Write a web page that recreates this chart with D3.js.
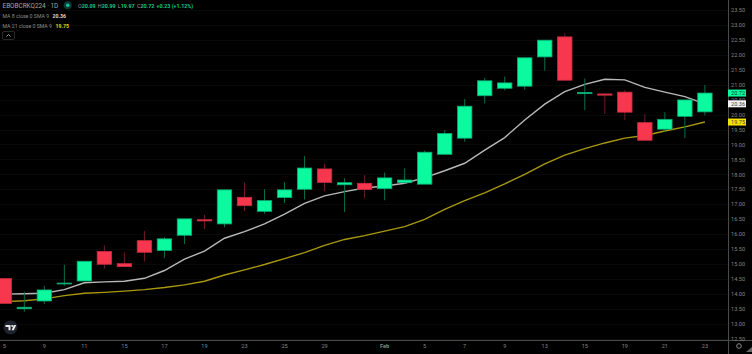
<!DOCTYPE html>
<html>
<head>
<meta charset="utf-8">
<script src="https://cdn.jsdelivr.net/npm/d3@7"></script>
<style>
    html, body { margin: 0; padding: 0; background: #000; overflow: hidden; }
    text { font-family: Roboto, "Noto Sans", sans-serif; }
</style>
</head>
<body>
<div id="chart"></div>
<script>
// Candles, left to right
const opens  = [14.51, 13.50, 13.76, 14.33, 14.43, 15.42, 15.01, 15.78, 15.45, 15.96, 16.48, 16.34, 17.23, 16.76, 17.22, 17.50, 18.18, 17.65, 17.70, 17.52, 17.72, 17.67, 18.67, 19.21, 20.63, 20.88, 20.95, 21.93, 22.60, 20.70, 20.69, 20.75, 19.73, 19.51, 19.94, 20.09];
const highs  = [14.51, 14.07, 14.27, 14.97, 15.09, 15.62, 15.38, 16.10, 15.90, 16.51, 16.64, 17.48, 17.72, 17.50, 17.74, 18.61, 18.35, 17.87, 17.97, 18.06, 18.20, 18.79, 19.48, 20.52, 21.23, 21.27, 21.90, 22.49, 22.72, 21.21, 20.69, 20.82, 20.02, 20.08, 20.49, 20.99];
const lows   = [13.68, 13.40, 13.66, 14.27, 14.43, 14.84, 14.91, 15.08, 15.20, 15.67, 16.17, 16.23, 16.77, 16.68, 17.04, 17.16, 17.44, 16.74, 17.21, 17.13, 17.70, 17.67, 18.65, 19.09, 20.38, 20.81, 20.83, 21.47, 21.15, 20.15, 20.02, 19.82, 19.14, 19.43, 19.21, 19.97];
const closes = [13.68, 13.55, 14.13, 14.36, 15.09, 14.99, 14.91, 15.39, 15.84, 16.51, 16.44, 17.48, 16.95, 17.12, 17.48, 18.21, 17.73, 17.72, 17.49, 17.88, 17.81, 18.74, 19.37, 20.28, 21.13, 21.06, 21.90, 22.49, 21.15, 20.74, 20.65, 20.08, 19.14, 19.84, 20.49, 20.72];

// Moving averages
const ma8  = [13.99, 14.00, 14.02, 14.14, 14.37, 14.40, 14.42, 14.52, 14.78, 15.16, 15.43, 15.86, 16.08, 16.34, 16.67, 17.03, 17.28, 17.42, 17.54, 17.61, 17.70, 17.89, 18.12, 18.37, 18.81, 19.23, 19.82, 20.35, 20.77, 21.01, 21.18, 21.16, 20.91, 20.75, 20.60, 20.36];
const ma21 = [13.74, 13.77, 13.83, 13.94, 14.02, 14.05, 14.09, 14.14, 14.21, 14.30, 14.42, 14.63, 14.80, 14.98, 15.18, 15.38, 15.62, 15.82, 15.95, 16.10, 16.25, 16.49, 16.83, 17.12, 17.38, 17.68, 18.00, 18.35, 18.64, 18.86, 19.05, 19.21, 19.30, 19.45, 19.59, 19.75];

// Labels on the time axis
const dayTicks = ["5", "9", "11", "15", "17", "19", "23", "25", "29", "Feb", "5", "7", "9", "13", "15", "19", "21", "23"];
const dayTickCandles = [0, 2, 4, 6, 8, 10, 12, 14, 16, 19, 21, 23, 25, 27, 29, 31, 33, 35];
const priceTicks = [12.5, 13, 13.5, 14, 14.5, 15, 15.5, 16, 16.5, 17, 17.5, 18, 18.5, 19, 19.5, 20, 20.5, 21, 21.5, 22, 22.5, 23, 23.5];

// Header readout
const ohlcLetters = ["O", "H", "L", "C"];
const ohlcValues = ["20.09", "20.99", "19.97", "20.72"];

const width = 752, height = 354;
const axisX = 728, axisY = 340;
const up = "#0cfa9f", down = "#f7374e";

const svg = d3.select("#chart").append("svg")
    .attr("width", width)
    .attr("height", height)
    .style("display", "block")
    .style("background", "#000");

// 36 candles, 20px apart
const x = d3.scaleLinear().domain([0, 35]).range([4.3, 704.9]);
const y = d3.scaleLinear().domain([13, 23.5]).range([323.7, 10]);

const plot = svg.append("g");
plot.append("clipPath").attr("id", "pane").append("rect")
    .attr("width", axisX).attr("height", axisY);
plot.attr("clip-path", "url(#pane)");

// Grid, hardly visible on the black
plot.selectAll(".hgrid")
    .data(priceTicks)
    .join("line")
    .attr("x1", 0).attr("x2", axisX)
    .attr("y1", d => Math.round(y(d)) + 0.5)
    .attr("y2", d => Math.round(y(d)) + 0.5)
    .attr("stroke", "#090909");

// Moving average lines
const line = d3.line().x((d, i) => x(i)).y(d => y(d));
plot.append("path").datum(ma21)
    .attr("d", line).attr("fill", "none")
    .attr("stroke", "#a8980f").attr("stroke-width", 1.4);
plot.append("path").datum(ma8)
    .attr("d", line).attr("fill", "none")
    .attr("stroke", "#b8b8b8").attr("stroke-width", 1.4);

// Candles
const candles = d3.range(opens.length);
const wickColor = i => closes[i] >= opens[i] ? "#0a6e4c" : "#6e1c27";
const edgeColor = i => closes[i] >= opens[i] ? "#0aa873" : "#c42e40";
const bodyColor = i => closes[i] >= opens[i] ? up : down;

plot.selectAll(".wick")
    .data(candles)
    .join("line")
    .attr("x1", i => x(i)).attr("x2", i => x(i))
    .attr("y1", i => y(highs[i])).attr("y2", i => y(lows[i]))
    .attr("stroke", wickColor).attr("stroke-width", 1);

plot.selectAll(".body")
    .data(candles)
    .join("rect")
    .attr("x", i => x(i) - 7.2)
    .attr("width", 14.4)
    .attr("y", i => y(Math.max(opens[i], closes[i])))
    .attr("height", i => Math.max(0.8, Math.abs(y(opens[i]) - y(closes[i]))))
    .attr("fill", bodyColor)
    .attr("stroke", edgeColor)
    .attr("stroke-width", 0.8);

// Axis lines
svg.append("line").attr("x1", axisX + 0.5).attr("x2", axisX + 0.5).attr("y1", 0).attr("y2", height)
    .attr("stroke", "#4a4a4a");
svg.append("line").attr("x1", 0).attr("x2", width).attr("y1", axisY + 0.5).attr("y2", axisY + 0.5)
    .attr("stroke", "#4a4a4a");

// Price axis
svg.append("g").selectAll("text")
    .data(priceTicks)
    .join("text")
    .attr("x", 731).attr("y", d => y(d) + 2.2)
    .attr("font-size", 5.6).attr("fill", "#858585")
    .text(d => d.toFixed(2));

// Time axis
svg.append("g").selectAll("text")
    .data(dayTicks)
    .join("text")
    .attr("x", (d, i) => x(dayTickCandles[i]))
    .attr("y", 347.5)
    .attr("text-anchor", "middle")
    .attr("font-size", 5.6)
    .attr("font-weight", d => d === "Feb" ? 700 : 400)
    .attr("fill", "#858585")
    .text(d => d);

// Last value tags, they sit on top of the price labels
const tags = [
    { value: closes[closes.length - 1], fill: up, text: "#04432e" },
    { value: ma8[ma8.length - 1], fill: "#f2f2f2", text: "#444" },
    { value: ma21[ma21.length - 1], fill: "#f5e400", text: "#444" }
];
tags.forEach(t => {
    svg.append("rect").attr("x", 728).attr("width", 18).attr("height", 7)
        .attr("y", y(t.value) - 3.5).attr("fill", t.fill);
    svg.append("text").attr("x", 731).attr("y", y(t.value) + 2.2)
        .attr("font-size", 5.6).attr("fill", t.text).text(t.value.toFixed(2));
});

// Header
svg.append("text").attr("x", 2.5).attr("y", 8).attr("font-size", 6.4)
    .attr("fill", "#a8a8a8").text("EBOBCRKQ224 · 1D");
svg.append("circle").attr("cx", 67.7).attr("cy", 5.2).attr("r", 4).attr("fill", "#0a3d32");
svg.append("circle").attr("cx", 67.7).attr("cy", 5.2).attr("r", 1.7).attr("fill", "#12c4a0");

const ohlc = svg.append("text").attr("x", 78).attr("y", 8).attr("font-size", 5.4);
ohlcLetters.forEach((letter, i) => {
    ohlc.append("tspan").attr("fill", "#9a9a9a").attr("dx", i ? 2.2 : 0).text(letter);
    ohlc.append("tspan").attr("fill", "#0cc888").attr("font-weight", 700).text(ohlcValues[i]);
});
ohlc.append("tspan").attr("fill", "#0cc888").attr("font-weight", 700).attr("dx", 2.2).text("+0.23 (+1.12%)");

const ma8Row = svg.append("text").attr("x", 2.5).attr("y", 17.8).attr("font-size", 5.2);
ma8Row.append("tspan").attr("fill", "#8d8d8d").text("MA 8 close 0 SMA 9");
ma8Row.append("tspan").attr("fill", "#dcdcdc").attr("font-weight", 700).attr("dx", 3.5).text("20.36");
const ma21Row = svg.append("text").attr("x", 2.5).attr("y", 27.8).attr("font-size", 5.2);
ma21Row.append("tspan").attr("fill", "#8d8d8d").text("MA 21 close 0 SMA 9");
ma21Row.append("tspan").attr("fill", "#e6d400").attr("font-weight", 700).attr("dx", 3.5).text("19.75");

// Collapse button
svg.append("rect").attr("x", 2.5).attr("y", 31.5).attr("width", 12).attr("height", 8).attr("rx", 1.5)
    .attr("fill", "none").attr("stroke", "#2a2a2a");
svg.append("path").attr("d", "M6.5 36.5L8.5 34.5L10.5 36.5").attr("fill", "none").attr("stroke", "#a0a0a0");

// TV logo
svg.append("circle").attr("cx", 10.5).attr("cy", 327.5).attr("r", 7).attr("fill", "#1e222d");
svg.append("path").attr("d", "M5.5 325h5v5.2h-2v-3.2h-3z").attr("fill", "#e8e8e8");
svg.append("circle").attr("cx", 12.2).attr("cy", 326).attr("r", 1).attr("fill", "#e8e8e8");
svg.append("path").attr("d", "M13.8 325h2.4l-2.3 5.2h-2.3z").attr("fill", "#e8e8e8");

// Gear and resize mark
svg.append("circle").attr("cx", 739).attr("cy", 346).attr("r", 2.3).attr("fill", "none").attr("stroke", "#8d8d8d");
svg.append("path").attr("d", "M752 347L752 352L746 352Z").attr("fill", "#666");
</script>
</body>
</html>
